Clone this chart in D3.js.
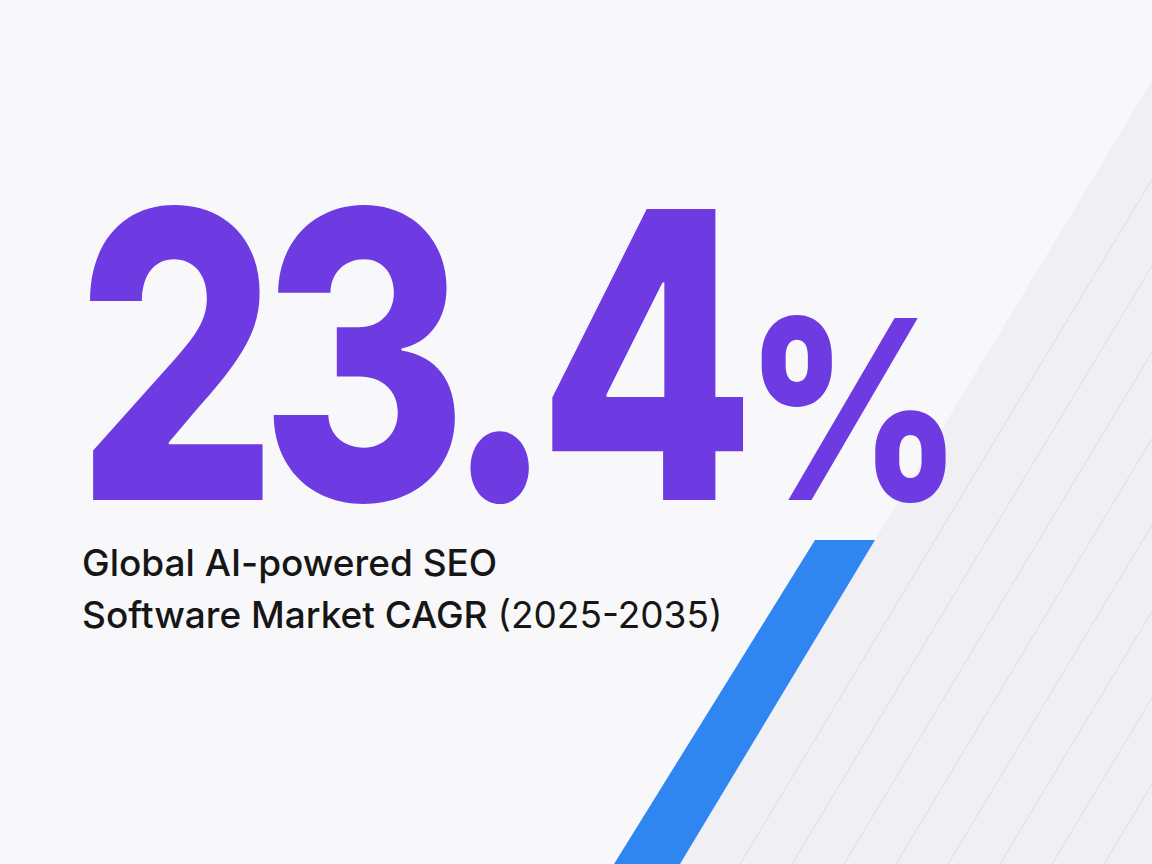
<!DOCTYPE html>
<html><head><meta charset="utf-8">
<script src="https://cdn.jsdelivr.net/npm/d3@7"></script>
<style>body{margin:0;background:#f7f7f9}svg{display:block}</style>
</head><body>
<script>
const statValue = ["23.4"];
const statUnit = ["%"];
const labelLines = [["Global AI-powered SEO", ""], ["Software Market CAGR ", "(2025-2035)"]];
const W = 1152, H = 864;
const svg = d3.select("body").append("svg").attr("width", W).attr("height", H);
svg.append("rect").attr("width", W).attr("height", H).attr("fill", "#f8f8fa");
const x = d3.scaleLinear().domain([540, 864]).range([875, 680]);
svg.append("path").attr("d", `M${x(0)},0 L${W},0 L${W},${H} L${x(864)},${H} Z`).attr("fill", "#efeff4");
const offs = d3.range(0, 12);
svg.selectAll("line.h").data(offs).enter().append("line")
  .attr("x1", d => x(0) + 60 + d * 52).attr("y1", 0)
  .attr("x2", d => x(864) + 60 + d * 52).attr("y2", H)
  .attr("stroke", "#dcdce8").attr("stroke-width", 1);
svg.append("path").attr("d", `M${x(540)-60},540 L${x(540)},540 L${x(864)},864 L${x(864)-66},864 Z`).attr("fill", "#2f86f0");
const big = svg.append("text").attr("transform", "translate(76,500) scale(0.79,1)")
  .attr("font-family", "Inter, 'Open Sans', sans-serif").attr("font-weight", 800)
  .attr("fill", "#6e3be2").attr("letter-spacing", -22).attr("font-size", 400).text(statValue[0]);
const bw = big.node().getComputedTextLength() * 0.79;
svg.append("text").attr("transform", `translate(${76 + bw + 6},500) scale(0.85,1)`)
  .attr("font-family", "Inter, 'Open Sans', sans-serif").attr("font-weight", 800)
  .attr("fill", "#6e3be2").attr("font-size", 250).text(statUnit[0]);
labelLines.forEach((l, i) => {
  const tt = svg.append("text").attr("x", 82).attr("y", 576 + i * 52)
    .attr("font-family", "Inter, sans-serif").attr("font-size", 37).attr("fill", "#161616");
  tt.append("tspan").attr("font-weight", 500).text(l[0]);
  if (l[1]) tt.append("tspan").attr("font-weight", 400).text(l[1]);
});
</script>
</body></html>
